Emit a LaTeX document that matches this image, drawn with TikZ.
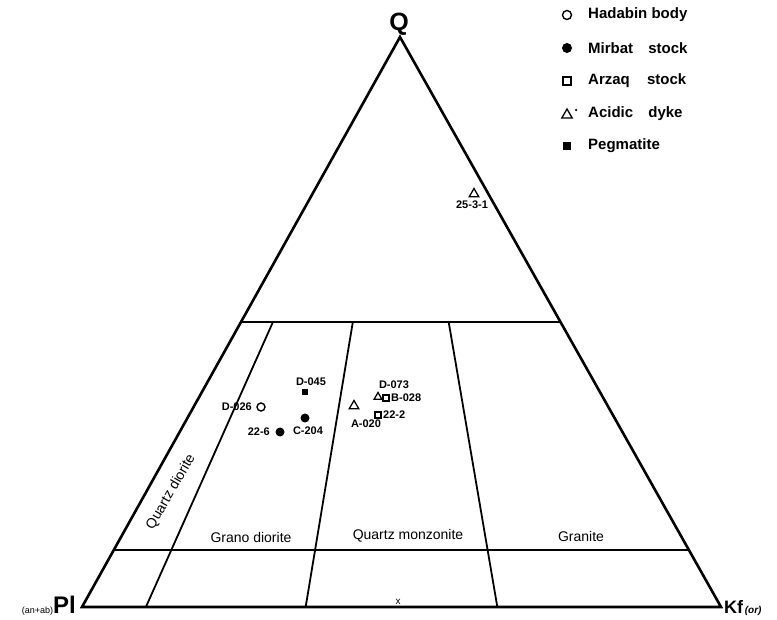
\documentclass[tikz,border=0pt]{standalone}
\usepackage{fontspec}
\setmainfont{Liberation Sans}
\usetikzlibrary{shapes.geometric}
\begin{document}
\begin{tikzpicture}[x=1pt,y=-1pt,
  outer/.style={line width=2.6pt, line join=miter},
  inner/.style={line width=1.8pt},
  lbl/.style={font=\fontsize{11}{11}\selectfont\bfseries, inner sep=0pt},
  region/.style={font=\fontsize{14}{14}\selectfont, inner sep=0pt},
  legtext/.style={font=\fontsize{15}{15}\selectfont\bfseries, anchor=west, inner sep=0pt},
  ocirc/.style={circle, draw, line width=1.4pt, minimum size=8pt, inner sep=0pt},
  fcirc/.style={circle, fill, minimum size=9pt, inner sep=0pt},
  osq/.style={rectangle, draw, line width=1.4pt, minimum size=7pt, inner sep=0pt},
  fsq/.style={rectangle, fill, minimum size=7pt, inner sep=0pt},
  otri/.style={regular polygon, regular polygon sides=3, draw, line width=1.3pt, minimum size=11pt, inner sep=0pt},
]
\useasboundingbox (0,0) rectangle (777,620);
\fill[white] (0,0) rectangle (777,620);

% corners
\coordinate (Q) at (400,37);
\coordinate (P) at (82,607);
\coordinate (K) at (721,607);
\draw[outer] (Q) -- (P) -- (K) -- cycle;

% horizontal lines
\coordinate (h50l) at (barycentric cs:Q=0.5,P=0.5);
\coordinate (h50r) at (barycentric cs:Q=0.5,K=0.5);
\coordinate (h10l) at (barycentric cs:Q=0.1,P=0.9);
\coordinate (h10r) at (barycentric cs:Q=0.1,K=0.9);
\draw[inner] (h50l) -- (h50r);
\draw[inner] (h10l) -- (h10r);

% radial lines
\coordinate (t1) at (barycentric cs:Q=0.5,P=0.45,K=0.05);
\coordinate (b1) at (barycentric cs:P=0.9,K=0.1);
\coordinate (t2) at (barycentric cs:Q=0.5,P=0.325,K=0.175);
\coordinate (b2) at (barycentric cs:P=0.65,K=0.35);
\coordinate (t3) at (barycentric cs:Q=0.5,P=0.175,K=0.325);
\coordinate (b3) at (barycentric cs:P=0.35,K=0.65);
\draw[inner] (t1) -- (b1);
\draw[inner] (t2) -- (b2);
\draw[inner] (t3) -- (b3);

% corner labels
\node[font=\fontsize{25}{25}\selectfont\bfseries, inner sep=0pt] (lQ) at (399,24) {Q};
\node[anchor=east, inner sep=0pt] (lP) at (76,606) {{\fontsize{9}{9}\selectfont (an+ab)}{\fontsize{24}{24}\selectfont\bfseries Pl}};
\node[anchor=west, inner sep=0pt] (lK) at (724,608) {{\fontsize{18}{18}\selectfont\bfseries Kf}{\fontsize{10}{10}\selectfont\itshape\bfseries\,(or)}};
\node[font=\fontsize{10}{10}\selectfont, inner sep=0pt] (xmark) at (398,602) {x};

% region labels
\node[region, rotate=60] (rqd) at (171,492) {Quartz diorite};
\node[region] (rgd) at (251,537) {Grano diorite};
\node[region] (rqm) at (408,536) {Quartz monzonite};
\node[region] (rgr) at (581,536) {Granite};

% data points
\node[otri] (p1) at (474,194) {};
\node[lbl] (l1) at (472,205) {25-3-1};

\node[ocirc] (p2) at (261,407) {};
\node[lbl, anchor=east] (l2) at (252,407) {D-026};

\node[fcirc] (p3) at (280,432) {};
\node[lbl, anchor=east] (l3) at (270,432) {22-6};

\node[fcirc] (p4) at (305,418) {};
\node[lbl] (l4) at (308,431) {C-204};

\node[fsq, minimum size=6pt] (p5) at (305,392) {};
\node[lbl] (l5) at (311,382) {D-045};

\node[lbl] (l6) at (394,385) {D-073};

\node[otri, minimum size=9pt] (p7) at (378,397) {};
\node[osq, minimum size=6pt] (p8) at (386,398) {};
\node[lbl, anchor=west] (l8) at (391,398) {B-028};

\node[otri] (p9) at (354,406) {};

\node[osq, minimum size=6pt] (p10) at (378,415) {};
\node[lbl, anchor=west] (l10) at (383,415) {22-2};

\node[lbl] (l11) at (366,424) {A-020};

% legend
\node[ocirc, minimum size=9pt] (g1) at (567,15) {};
\node[legtext] (gt1) at (588,15) {Hadabin body};
\node[fcirc, minimum size=10pt] (g2) at (567,48) {};
\node[legtext] (gt2) at (588,48) {Mirbat\hspace{11pt} stock};
\node[osq, minimum size=8pt] (g3) at (567,81) {};
\node[legtext] (gt3) at (588,81) {Arzaq\hspace{13pt} stock};
\node[otri, minimum size=12pt] (g4) at (567,115) {};
\node[circle, fill, minimum size=2.5pt, inner sep=0pt] (g4d) at (576,110) {};
\node[legtext] (gt4) at (588,114) {Acidic\hspace{11pt} dyke};
\node[fsq, minimum size=8pt] (g5) at (567,146) {};
\node[legtext] (gt5) at (588,146) {Pegmatite};

\end{tikzpicture}
\end{document}
